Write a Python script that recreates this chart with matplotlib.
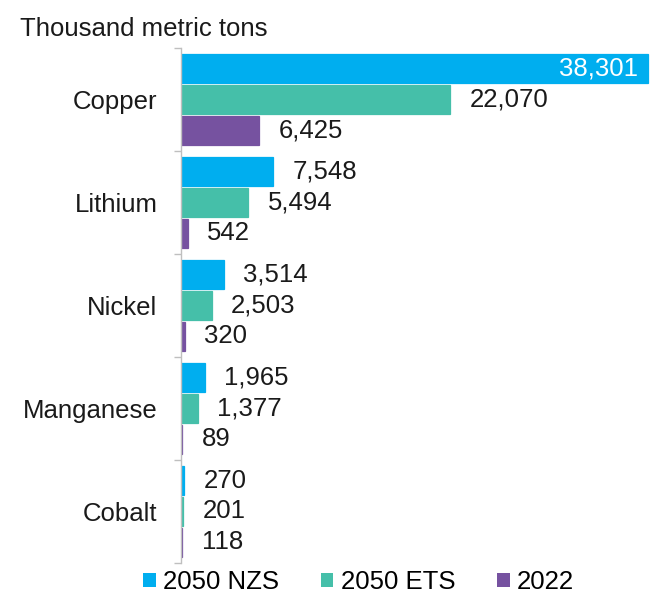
import numpy as np
import matplotlib.pyplot as plt
from matplotlib.patches import Patch

# Chart data (thousand metric tons)
minerals = ["Copper", "Lithium", "Nickel", "Manganese", "Cobalt"]
series_names = ["2050 NZS", "2050 ETS", "2022"]
nzs_2050 = [38301, 7548, 3514, 1965, 270]
ets_2050 = [22070, 5494, 2503, 1377, 201]
actual_2022 = [6425, 542, 320, 89, 118]

colors = ["#00AEEF", "#45BFA9", "#7652A0"]

plt.rcParams["font.family"] = ["Liberation Sans", "DejaVu Sans"]
FONT_SIZE = 18.5


def main():
    fig = plt.figure(figsize=(6.58, 5.96), dpi=100)
    ax = fig.add_axes([181 / 658, 1 - 563 / 596, 471 / 658, 515 / 596])

    y = np.arange(len(minerals))
    step = 0.3
    all_series = [nzs_2050, ets_2050, actual_2022]
    top = max(max(s) for s in all_series)

    for i, (vals, col) in enumerate(zip(all_series, colors)):
        pos = y + (i - 1) * step
        # thin edge in the bar colour keeps the tiny bars visible
        bars = ax.barh(pos, vals, height=0.28, color=col,
                       edgecolor=col, linewidth=0.9)
        for b, v in zip(bars, vals):
            yc = b.get_y() + b.get_height() / 2
            if v == top:
                # Largest bar gets its label inside, in white
                ax.annotate(f"{v:,}", (v, yc), xytext=(-7, 0),
                            textcoords="offset points", ha="right", va="center",
                            color="white", fontsize=FONT_SIZE)
            else:
                ax.annotate(f"{v:,}", (v, yc), xytext=(14, 0),
                            textcoords="offset points", ha="left", va="center",
                            color="#1a1a1a", fontsize=FONT_SIZE)

    ax.set_xlim(0, 38301 * 471 / 467)
    ax.set_ylim(len(minerals) - 0.5, -0.5)

    # Category labels without tick marks, boundary ticks as minor ticks
    ax.set_yticks(y)
    ax.set_yticklabels(minerals, fontsize=FONT_SIZE, color="#1a1a1a")
    ax.tick_params(axis="y", which="major", length=0, pad=17)
    ax.set_yticks(np.arange(len(minerals) + 1) - 0.5, minor=True)
    ax.tick_params(axis="y", which="minor", length=5, width=1, color="#BFBFBF")
    ax.set_xticks([])

    for side in ["top", "right", "bottom"]:
        ax.spines[side].set_visible(False)
    ax.spines["left"].set_color("#BFBFBF")
    ax.spines["left"].set_linewidth(1)

    fig.text(20 / 658, 1 - 36 / 596, "Thousand metric tons", ha="left",
             va="baseline", fontsize=FONT_SIZE, color="#1a1a1a")

    handles = [Patch(facecolor=c, edgecolor="none") for c in colors]
    fig.legend(handles, series_names, loc="center", ncol=3,
               bbox_to_anchor=(0.545, 1 - 582 / 596), frameon=False,
               fontsize=FONT_SIZE, handlelength=0.5, handleheight=0.5,
               handletextpad=0.3, columnspacing=1.6, borderpad=0)

    fig.savefig("out.png", dpi=100)
    plt.close(fig)


if __name__ == "__main__":
    main()
